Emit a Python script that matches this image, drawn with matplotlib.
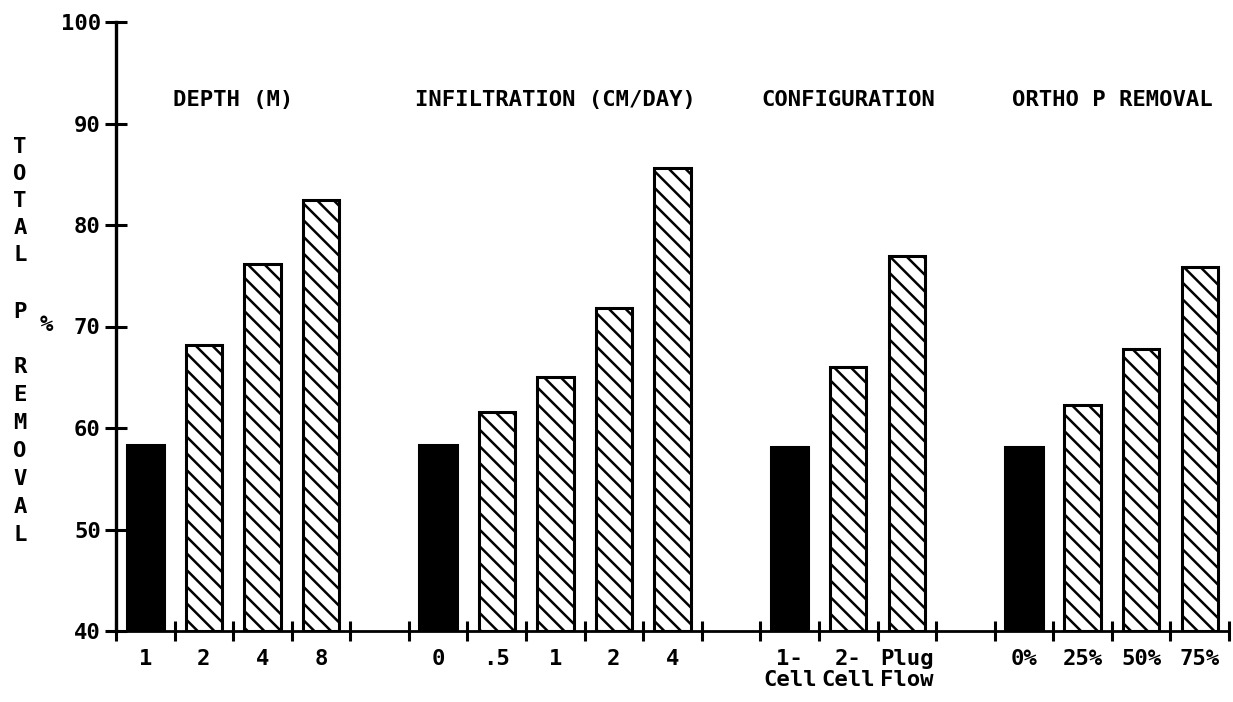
import matplotlib
matplotlib.use("Agg")
import matplotlib.pyplot as plt
import numpy as np

# ---- data ----
group_titles = ["DEPTH (M)", "INFILTRATION (CM/DAY)", "CONFIGURATION", "ORTHO P REMOVAL"]
depth_labels = ["1", "2", "4", "8"]
depth_values = [58.3, 68.2, 76.2, 82.5]
infil_labels = ["0", ".5", "1", "2", "4"]
infil_values = [58.3, 61.6, 65.0, 71.8, 85.6]
config_labels = ["1-\nCell", "2-\nCell", "Plug\nFlow"]
config_values = [58.1, 66.0, 76.9]
ortho_labels = ["0%", "25%", "50%", "75%"]
ortho_values = [58.1, 62.3, 67.8, 75.9]
y_ticks = [40, 50, 60, 70, 80, 90, 100]
y_label = "TOTAL P REMOVAL"

groups = [(depth_labels, depth_values), (infil_labels, infil_values),
          (config_labels, config_values), (ortho_labels, ortho_values)]

FONT = "DejaVu Sans Mono"
plt.rcParams["font.family"] = FONT
plt.rcParams["font.weight"] = "bold"
plt.rcParams["hatch.linewidth"] = 1.8
plt.rcParams["hatch.color"] = "black"

FS = 16

fig = plt.figure(figsize=(12.33, 7.02), dpi=100)
ax = fig.add_axes([116 / 1233, 71 / 702, 1113 / 1233, 609 / 702])

slot = 0
centers, labels = [], []
title_pos = []
for gi, (labs, vals) in enumerate(groups):
    start = slot
    for i, (lab, v) in enumerate(zip(labs, vals)):
        c = slot + 0.5
        if i == 0:
            ax.bar(c, v - 40, bottom=40, width=0.64, color="black", edgecolor="black", linewidth=2.2)
        else:
            ax.bar(c, v - 40, bottom=40, width=0.62, facecolor="white", edgecolor="black",
                   linewidth=2.2, hatch="\\\\")
        centers.append(c)
        labels.append(lab)
        slot += 1
    title_pos.append((start + slot) / 2)
    slot += 1  # gap between groups
n_slots = slot - 1

ax.set_xlim(0, n_slots)
ax.set_ylim(40, 100)

for sp in ["top", "right"]:
    ax.spines[sp].set_visible(False)
ax.spines["left"].set_linewidth(2.4)
ax.spines["bottom"].set_linewidth(2.0)

ax.set_yticks(y_ticks)
ax.set_yticklabels([str(t) for t in y_ticks], fontsize=FS, fontweight="bold")
ax.tick_params(axis="y", direction="inout", length=16, width=2.2, pad=3)

ax.set_xticks(np.arange(0, n_slots + 1))
ax.set_xticklabels([])
ax.tick_params(axis="x", which="major", direction="inout", length=14, width=2.2)
ax.set_xticks(centers, minor=True)
ax.set_xticklabels(labels, minor=True, fontsize=FS, fontweight="bold", linespacing=1.05)
ax.tick_params(axis="x", which="minor", length=0, pad=13)

for t, xp in zip(group_titles, title_pos):
    ax.text(xp, 92.3, t, ha="center", va="center", fontsize=FS, fontweight="bold")

# stacked vertical y label
ypos = [147, 174, 201, 228, 255, None, 312, None, 367, 395, 423, 451, 479, 507, 535]
for ch, yp in zip(y_label, ypos):
    if ch == " " or yp is None:
        continue
    fig.text(20 / 1233, 1 - yp / 702, ch, ha="center", va="center", fontsize=FS, fontweight="bold")
fig.text(46 / 1233, 1 - 325 / 702, "%", ha="center", va="center", fontsize=FS, fontweight="bold")

fig.savefig("out.png", dpi=100, facecolor="white")
